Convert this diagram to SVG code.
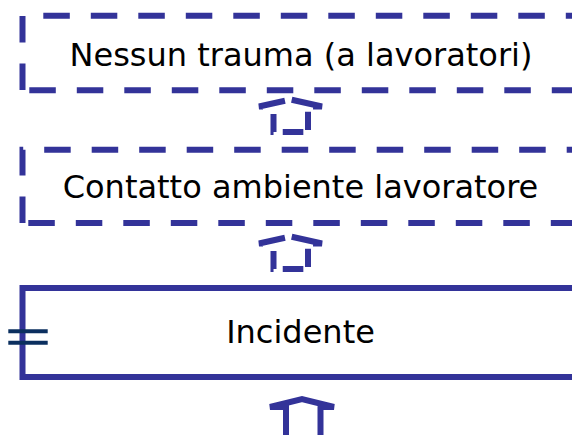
<svg xmlns="http://www.w3.org/2000/svg" width="572" height="435" viewBox="0 0 572 435">
  <style>
    .box { fill: none; stroke: #333399; stroke-width: 6; }
    .dash { stroke-dasharray: 26.5 21; }
    .label { font-family: "DejaVu Sans", Verdana, sans-serif; font-size: 32px; fill: #000; text-anchor: middle; }
    .arrow { fill: none; stroke: #333399; stroke-width: 6; stroke-linejoin: miter; }
    .arrow-dash { stroke-dasharray: 18 18 30.6 6.9 40 10.2 18.3 6.7 20.6 9.2; }
    .eq { stroke: #0b2f5f; stroke-width: 4; }
  </style>
  <rect width="572" height="435" fill="#ffffff"/>

  <g id="node-nessun-trauma">
    <path class="box dash" d="M22.5,90 V15.8 H590"/>
    <path class="box dash" d="M22.5,90.3 H590" stroke-dashoffset="40.7"/>
    <text class="label" x="301" y="66">Nessun trauma (a lavoratori)</text>
  </g>

  <g id="node-contatto">
    <path class="box dash" d="M22.5,223 V149.7 H590"/>
    <path class="box dash" d="M22.5,223 H590" stroke-dashoffset="41.7"/>
    <text class="label" x="300.5" y="198">Contatto ambiente lavoratore</text>
  </g>

  <g id="node-incidente">
    <rect class="box" x="22.5" y="288" width="570" height="89" fill="#ffffff"/>
    <text class="label" x="300.5" y="343">Incidente</text>
    <line class="eq" x1="8.3" y1="331.2" x2="47.7" y2="331.2"/>
    <line class="eq" x1="8.3" y1="342.8" x2="47.7" y2="342.8"/>
  </g>

  <g id="connectors">
    <path class="arrow arrow-dash" d="M273.5,132 V106.5 H259 L290.5,99.5 L322,106.5 H308 V132 Z"/>
    <path class="arrow arrow-dash" transform="translate(0,137)" d="M273.5,132 V106.5 H259 L290.5,99.5 L322,106.5 H308 V132 Z"/>
    <path class="arrow" d="M286,445 V407 H270 L302,399 L334,407 H320.5 V445"/>
  </g>
</svg>
